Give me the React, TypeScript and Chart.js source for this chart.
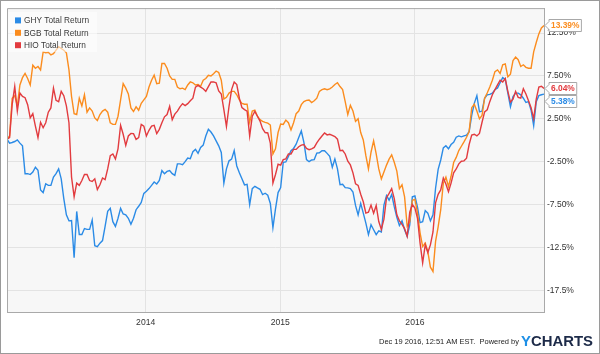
import { useEffect, useRef } from "react";
import { Chart, registerables } from "chart.js";

Chart.register(...registerables);

const SERIES_NAMES = ["GHY Total Return", "BGB Total Return", "HIO Total Return"];
const SERIES_COLORS = ["#2b8be6", "#fb8c1e", "#e23b3f"];

// Weekly closes (Fridays) starting at FIRST_WEEK, total return in %
const FIRST_WEEK = "2012-12-21";

const GHY = [
  0.12, -0.34, -0.26, -0.15, 0.04, -0.34, -0.65, -3.9, -3.9, -4.0,
  -3.7, -3.15, -3.5, -5.8, -6.1, -5.07, -5.26, -5.26, -4.3, -3.9,
  -3.34, -4.5, -6.8, -8.7, -9.4, -9.37, -13.7, -8.3, -11.0, -11.0,
  -10.3, -10.4, -10.4, -9.3, -12.3, -12.4, -12.0, -11.7, -10.05, -8.3,
  -7.95, -9.5, -10.05, -9.1, -7.95, -8.6, -8.7, -9.1, -9.8, -9.1,
  -8.1, -7.7, -7.25, -6.2, -5.95, -5.64, -5.26, -4.87, -5.1, -4.7,
  -3.53, -3.9, -3.64, -3.53, -3.9, -4.1, -2.76, -2.76, -2.84, -2.5,
  -2.07, -2.15, -1.34, -1.07, -1.53, -0.84, -0.57, 0.5, 1.27, 0.96,
  0.5, -0.07, -0.65, -1.42, -5.0, -3.34, -2.4, -2.2, -1.2, -3.0,
  -3.8, -4.5, -5.2, -5.14, -7.5, -5.64, -5.37, -5.56, -5.72, -6.33,
  -6.18, -6.41, -7.37, -10.2, -8.0, -6.1, -5.53, -2.57, -2.53, -1.88,
  -1.22, -0.96, -0.46, 0.31, 1.08, -0.26, -2.26, -2.5, -2.3, -2.26,
  -1.5, -1.46, -1.22, -1.22, -1.53, -1.88, -3.15, -2.18, -3.34, -5.18,
  -5.14, -5.53, -5.56, -5.64, -6.03, -7.6, -8.7, -7.37, -8.5, -9.67,
  -11.0, -9.86, -10.44, -11.0, -10.56, -10.7, -7.56, -6.45, -6.99, -6.33,
  -7.75, -8.98, -9.94, -9.4, -10.44, -11.2, -9.86, -6.6, -6.5, -7.8,
  -9.6, -9.5, -8.2, -8.5, -9.4, -8.7, -5.6, -3.4, -2.3, -0.9,
  -0.65, -1.0, -0.5, -0.25, 0.35, 0.5, 0.4, 0.5, 0.6, 1.0,
  2.9, 4.3, 5.2, 3.3, 3.4, 4.9, 5.3, 5.35, 5.5, 5.9,
  6.1, 6.7, 7.3, 7.1, 5.5, 3.9, 5.1, 5.5, 5.5, 5.3,
  4.9, 4.4, 4.5, 3.5, 1.7, 4.5, 5.2, 5.3, 5.38,
];

const BGB = [
  0.12, 0.5, 4.9, 5.2, 4.0, 6.45, 7.3, 7.8, 7.2, 6.45,
  8.75, 8.4, 8.6, 8.2, 10.3, 10.2, 10.25, 9.95, 10.1, 10.5,
  10.9, 10.7, 10.5, 10.2, 8.2, 5.1, 3.1, 3.0, 4.9, 4.0,
  5.3, 3.27, 3.77, 3.4, 2.6, 2.3, 3.0, 3.4, 3.6, 3.27,
  2.04, 1.85, 1.85, 2.8, 4.7, 6.6, 6.07, 5.4, 3.77, 3.35,
  3.9, 3.5, 4.3, 4.7, 5.1, 6.2, 7.0, 7.6, 6.6, 6.65,
  8.95, 8.95, 8.4, 7.5, 7.1, 7.1, 6.2, 6.0, 6.07, 5.9,
  6.45, 6.8, 6.7, 6.45, 6.5, 6.3, 7.0, 7.2, 7.57, 7.5,
  7.76, 8.07, 7.9, 7.0, 4.8, 5.0, 5.5, 5.7, 5.7, 5.3,
  4.7, 4.3, 4.2, 4.2, 2.1, 3.4, 3.5, 2.8, 2.4, 2.2,
  2.08, 2.0, 1.77, -1.6, -1.0, 0.9, 1.9, 1.85, 2.35, 2.04,
  1.2, 2.04, 3.1, 3.4, 4.15, 4.5, 4.65, 4.7, 4.4, 4.6,
  4.9, 5.7, 5.9, 6.0, 5.9, 6.0, 6.2, 6.5, 6.7, 6.26,
  5.9, 4.5, 3.0, 4.07, 3.4, 2.2, 2.5, 0.9, 0.04, -1.8,
  -3.34, -1.4, -0.07, -1.6, -3.34, -4.5, -3.7, -2.9, -2.2, -1.7,
  -2.57, -3.6, -5.64, -5.2, -6.6, -10.0, -9.5, -7.0, -6.9, -8.5,
  -10.8, -12.4, -12.0, -13.0, -14.8, -15.3, -11.8, -10.1, -8.1, -5.0,
  -4.3, -5.4, -4.2, -2.6, -2.0, -1.2, -0.7, -0.2, 0.35, 1.0,
  3.8, 4.2, 3.4, 2.5, 2.9, 4.9, 5.5, 6.2, 7.0, 8.0,
  8.2, 7.8, 8.8, 8.9, 7.4, 7.7, 9.3, 9.7, 9.4, 8.6,
  8.8, 8.5, 8.4, 8.4, 10.3, 11.4, 12.4, 13.1, 13.39,
];

const HIO = [
  0.12, 0.3, 4.15, 6.26, 3.4, 5.5, 5.1, 4.96, 4.15, 2.6,
  3.1, 1.65, 0.3, 2.1, 1.46, 2.04, 3.27, 3.77, 6.07, 4.65,
  4.5, 5.7, 5.2, 4.0, 2.04, -4.3, -6.6, -5.0, -5.26, -4.7,
  -4.0, -4.0, -4.7, -4.8, -4.5, -5.76, -5.2, -4.4, -4.6, -3.34,
  -1.8, -1.6, -2.18, -1.0, 1.73, 0.7, -0.6, 0.5, 0.8, 0.77,
  0.1, 0.3, 1.85, 1.65, 0.5, 1.16, 1.65, 1.73, 0.77, 1.27,
  2.04, 2.73, 3.0, 3.96, 2.4, 3.04, 3.4, 3.9, 4.27, 4.04,
  4.27, 4.6, 4.9, 6.2, 6.4, 6.2, 6.0, 5.7, 6.26, 6.8,
  6.8, 6.7, 5.76, 5.4, 3.57, 1.6, 3.96, 5.9, 6.8, 6.5,
  4.9, 3.8, 3.57, 3.4, 0.5, 2.8, 3.35, 2.8, 2.23, 1.35,
  0.9, 0.85, -0.34, -5.0, -4.0, -2.8, -2.9, -2.26, -2.18, -1.6,
  -1.6, -1.07, -1.07, -0.76, -0.57, -0.5, -0.96, -1.1, -1.0, -0.84,
  -0.3, 0.12, 0.5, 0.85, 0.62, 0.7, 0.58, 0.43, 0.12, -1.22,
  -1.18, -1.6, -2.45, -2.88, -3.8, -5.07, -5.26, -6.3, -7.18, -8.5,
  -8.4, -7.56, -8.5, -7.6, -9.48, -10.4, -9.2, -6.7, -6.2, -5.64,
  -6.8, -8.7, -9.4, -9.8, -10.3, -11.2, -8.4, -7.5, -7.9, -9.1,
  -12.0, -14.3, -12.2, -13.1, -12.2, -10.7, -7.3, -6.3, -5.8, -4.4,
  -5.1, -6.0, -5.0, -3.8, -3.35, -2.75, -2.45, -2.4, -2.1, -0.5,
  0.6, 0.7, 0.5, 0.8, 2.1, 3.3, 3.55, 4.5, 5.3, 5.9,
  6.45, 7.0, 6.8, 7.2, 5.7, 4.45, 4.8, 5.7, 5.0, 4.9,
  6.0, 5.4, 4.6, 3.8, 2.5, 4.8, 6.2, 6.3, 6.04,
];

const END_LABELS = ["5.38%", "13.39%", "6.04%"];

const YEAR_TICKS = ["2014-01-01", "2015-01-01", "2016-01-01"];
const YEAR_LABELS = ["2014", "2015", "2016"];

const Y_TICKS = [12.5, 7.5, 2.5, -2.5, -7.5, -12.5, -17.5];
const Y_TICK_LABELS = ["12.50%", "7.50%", "2.50%", "-2.50%", "-7.50%", "-12.5%", "-17.5%"];
const Y_MIN = -20.03;
const Y_MAX = 15.41;

const FOOTER_TEXT = "Dec 19 2016, 12:51 AM EST.  Powered by";
const LOGO_Y = "Y";
const LOGO_REST = "CHARTS";

const FONT = "'Liberation Sans', Arial, sans-serif";
const DAY = 86400000;

function weeklyDates(n: number): number[] {
  const start = Date.parse(FIRST_WEEK);
  const out: number[] = [];
  for (let i = 0; i < n; i++) out.push(start + i * 7 * DAY);
  return out;
}

export default function App() {
  const ref = useRef<HTMLCanvasElement | null>(null);

  useEffect(() => {
    document.body.style.margin = "0";
    const canvas = ref.current;
    if (!canvas) return;
    const series = [GHY, BGB, HIO];
    const dates = weeklyDates(GHY.length);

    const decor = {
      id: "decor",
      beforeDraw(chart: any) {
        const { ctx, chartArea: a } = chart;
        ctx.save();
        ctx.fillStyle = "#ffffff";
        ctx.fillRect(0, 0, chart.width, chart.height);
        ctx.fillStyle = "#f7f7f7";
        ctx.fillRect(a.left, a.top, a.right - a.left, a.bottom - a.top);
        ctx.restore();
      },
      afterDatasetsDraw(chart: any) {
        const { ctx, chartArea: a } = chart;
        ctx.save();
        ctx.fillStyle = "rgba(255,255,255,0.55)";
        ctx.fillRect(a.left + 1, a.top + 4, 89, 40);
        ctx.font = `8.3px ${FONT}`;
        ctx.textBaseline = "middle";
        SERIES_NAMES.forEach((name, i) => {
          const cy = a.top + 12.3 + i * 12.4;
          ctx.fillStyle = SERIES_COLORS[i];
          ctx.fillRect(a.left + 8, cy - 3, 6, 6);
          ctx.fillStyle = "#3a3a3a";
          ctx.fillText(name, a.left + 17, cy + 0.5);
        });
        ctx.restore();
      },
      afterDraw(chart: any) {
        const { ctx, chartArea: a } = chart;
        const yScale = chart.scales.y;
        ctx.save();
        ctx.strokeStyle = "#a9a9a9";
        ctx.lineWidth = 1;
        ctx.beginPath();
        ctx.moveTo(a.left + 0.5, a.bottom);
        ctx.lineTo(a.left + 0.5, a.top + 0.5);
        ctx.lineTo(a.right, a.top + 0.5);
        ctx.stroke();
        ctx.strokeStyle = "#9a9a9a";
        ctx.strokeRect(0.5, 0.5, chart.width - 1, chart.height - 1);

        const items = series.map((s, i) => ({
          i,
          y: yScale.getPixelForValue(s[s.length - 1]),
        }));
        items.sort((p, q) => p.y - q.y);
        for (let k = 1; k < items.length; k++) {
          if (items[k].y < items[k - 1].y + 13) items[k].y = items[k - 1].y + 13;
        }
        ctx.font = `bold 8.4px ${FONT}`;
        ctx.textBaseline = "middle";
        items.forEach((it) => {
          const text = END_LABELS[it.i];
          const w = ctx.measureText(text).width;
          const tip = a.right + 1;
          const bx = tip + 4;
          const y = Math.round(it.y) + 0.5;
          const right = bx + w + 4;
          ctx.beginPath();
          ctx.moveTo(tip, y);
          ctx.lineTo(bx, y - 4);
          ctx.lineTo(bx, y - 6);
          ctx.lineTo(right, y - 6);
          ctx.lineTo(right, y + 6);
          ctx.lineTo(bx, y + 6);
          ctx.lineTo(bx, y + 4);
          ctx.closePath();
          ctx.fillStyle = "#ffffff";
          ctx.fill();
          ctx.strokeStyle = "#a8a8a8";
          ctx.stroke();
          ctx.fillStyle = SERIES_COLORS[it.i];
          ctx.fillText(text, bx + 2, y + 0.5);
        });

        const fy = 342;
        ctx.font = `8px ${FONT}`;
        ctx.fillStyle = "#222";
        ctx.textBaseline = "middle";
        const fw = ctx.measureText(FOOTER_TEXT).width;
        ctx.save();
        ctx.translate(379, fy);
        ctx.scale(140 / fw, 1);
        ctx.fillText(FOOTER_TEXT, 0, 0);
        ctx.restore();

        ctx.font = `bold 15px ${FONT}`;
        const wY = ctx.measureText(LOGO_Y).width;
        const wR = ctx.measureText(LOGO_REST).width;
        const sx = 72 / (wY + wR);
        ctx.save();
        ctx.translate(521, fy);
        ctx.scale(sx, 1);
        ctx.fillStyle = "#1d8fe6";
        ctx.fillText(LOGO_Y, 0, 0);
        ctx.fillStyle = "#1c2a48";
        ctx.fillText(LOGO_REST, wY, 0);
        ctx.restore();

        ctx.restore();
      },
    };

    const chart = new Chart(canvas, {
      type: "line",
      data: {
        datasets: series.map((s, i) => ({
          label: SERIES_NAMES[i],
          data: s.map((v, k) => ({ x: dates[k], y: v })),
          borderColor: SERIES_COLORS[i],
          backgroundColor: SERIES_COLORS[i],
          borderWidth: 1.4,
          pointRadius: 0,
          tension: 0,
          fill: false,
          order: [2, 1, 0][i],
        })),
      },
      options: {
        responsive: false,
        animation: false,
        devicePixelRatio: 1,
        layout: { padding: { left: 7, top: 4, right: 0, bottom: 0 } },
        plugins: { legend: { display: false }, tooltip: { enabled: false } },
        scales: {
          x: {
            type: "linear",
            min: dates[0],
            max: dates[dates.length - 1],
            afterFit: (s: any) => {
              s.height = 42;
            },
            afterBuildTicks: (s: any) => {
              s.ticks = YEAR_TICKS.map((d) => ({ value: Date.parse(d) }));
            },
            ticks: {
              autoSkip: false,
              maxRotation: 0,
              padding: 5,
              color: "#333",
              font: { family: FONT, size: 8.6 },
              callback: (_v: any, idx: number) => YEAR_LABELS[idx],
            },
            grid: { color: "#e3e3e3", lineWidth: 1, drawTicks: false },
            border: { display: true, color: "#a9a9a9" },
          },
          y: {
            position: "right",
            min: Y_MIN,
            max: Y_MAX,
            afterFit: (s: any) => {
              s.width = 56;
            },
            afterBuildTicks: (s: any) => {
              s.ticks = Y_TICKS.map((v) => ({ value: v }));
            },
            ticks: {
              padding: 3,
              color: "#333",
              font: { family: FONT, size: 8.5 },
              callback: (v: any) => {
                const idx = Y_TICKS.indexOf(Number(v));
                return idx >= 0 ? Y_TICK_LABELS[idx] : "";
              },
            },
            grid: { color: "#e3e3e3", lineWidth: 1, drawTicks: false },
            border: { display: true, color: "#a9a9a9" },
          },
        },
      },
      plugins: [decor],
    } as any);

    return () => chart.destroy();
  }, []);

  return (
    <div style={{ width: 600, height: 354 }}>
      <canvas ref={ref} width={600} height={354} style={{ display: "block" }} />
    </div>
  );
}
